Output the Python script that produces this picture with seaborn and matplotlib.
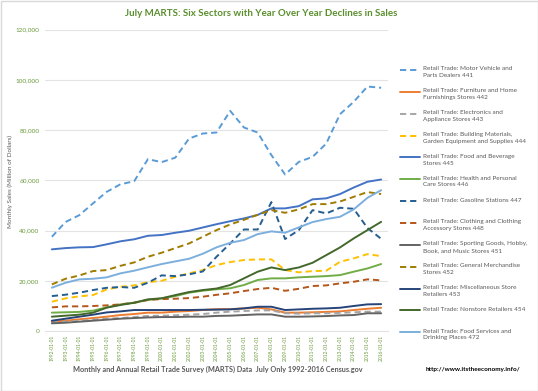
import matplotlib
matplotlib.use("Agg")
import matplotlib.pyplot as plt
import seaborn as sns
import pandas as pd
from matplotlib.lines import Line2D
from matplotlib.patches import Rectangle

# ---------------- data ----------------
years = list(range(1992, 2017))
dates = [f"{y}-01-01" for y in years]

motor_vehicle_441 = [37500, 43400, 46100, 50800, 55400, 58400, 59600, 68400, 67200, 69000,
                     76600, 78600, 79000, 87600, 81000, 79000, 70000, 62300, 67300, 69300,
                     74600, 86300, 91200, 97300, 96800]
furniture_442 = [3700, 4100, 4650, 5150, 5700, 6350, 6750, 7300, 7300, 7700,
                 7950, 8350, 8700, 8700, 9000, 9250, 8600, 7300, 7300, 7450,
                 7600, 7800, 8350, 8850, 9250]
electronics_443 = [3450, 3700, 4100, 4500, 4900, 5150, 5550, 6000, 6100, 6250,
                   6500, 6750, 7300, 7700, 7950, 8200, 8200, 7050, 6900, 7050,
                   7050, 7200, 7450, 7700, 7700]
building_444 = [11650, 13000, 13800, 14300, 16550, 17600, 18150, 19450, 20000, 21600,
                22950, 24250, 26250, 27450, 28250, 28500, 28500, 24250, 23350, 23850,
                24000, 27550, 28900, 30600, 29800]
food_bev_445 = [32500, 33000, 33300, 33400, 34500, 35700, 36500, 37900, 38200, 39100,
                39900, 41200, 42500, 43700, 44800, 46200, 48800, 48800, 49700, 52400,
                52800, 54500, 57100, 59400, 60300]
health_446 = [7300, 7450, 7600, 8100, 9400, 10600, 11250, 12350, 13000, 13900,
              15250, 16050, 16600, 17000, 18300, 20300, 20950, 20950, 21350, 21600,
              21850, 22250, 23600, 24900, 26650]
gasoline_447 = [13900, 14450, 15250, 16300, 17200, 17500, 17200, 19200, 22150, 21850,
                22550, 23700, 29550, 34850, 40400, 40400, 51300, 36600, 40150, 48100,
                46800, 49050, 48650, 41000, 36700]
clothing_448 = [9400, 9800, 9800, 9950, 10200, 10600, 11250, 12350, 12700, 12850,
                13100, 13650, 14400, 15000, 15900, 16700, 17200, 16000, 16800, 17900,
                18150, 18950, 19600, 20550, 20150]
sporting_451 = [3050, 3300, 3700, 4100, 4500, 4900, 5150, 5400, 5550, 5550,
                5700, 5700, 6000, 6100, 6350, 6600, 6600, 5700, 5700, 5800,
                5950, 6200, 6350, 7050, 7050]
general_452 = [18550, 20800, 22100, 23850, 24250, 25950, 27300, 29550, 31150, 33000,
               34850, 37500, 40150, 42400, 44250, 46250, 48100, 47050, 48400, 50500,
               50500, 51550, 53400, 55300, 54500]
misc_453 = [4100, 4900, 5700, 6500, 7400, 7800, 8350, 8350, 8350, 8350,
            8350, 8450, 8500, 8600, 9000, 9650, 9650, 8350, 8600, 8850,
            9000, 9250, 9950, 10600, 10700]
nonstore_454 = [5700, 6100, 6500, 7300, 9300, 10350, 11250, 12600, 13000, 14300,
                15500, 16300, 16900, 18300, 20950, 23600, 25300, 24250, 25300, 27150,
                30200, 33250, 36850, 40150, 43450]
food_services_472 = [17250, 19200, 20550, 20800, 21350, 22950, 24000, 25350, 26650, 27700,
                     28750, 30750, 33300, 35100, 36200, 38550, 39650, 39100, 41250, 43350,
                     44550, 45450, 48400, 53000, 56050]

series_names = [
    "Retail Trade: Motor Vehicle and\nParts Dealers 441",
    "Retail Trade: Furniture and Home\nFurnishings Stores 442",
    "Retail Trade: Electronics and\nAppliance Stores 443",
    "Retail Trade: Building Materials,\nGarden Equipment and Supplies 444",
    "Retail Trade: Food and Beverage\nStores 445",
    "Retail Trade: Health and Personal\nCare Stores 446",
    "Retail Trade: Gasoline Stations 447",
    "Retail Trade: Clothing and Clothing\nAccessory Stores 448",
    "Retail Trade: Sporting Goods, Hobby,\nBook, and Music Stores 451",
    "Retail Trade: General Merchandise\nStores 452",
    "Retail Trade: Miscellaneous Store\nRetailers 453",
    "Retail Trade: Nonstore Retailers 454",
    "Retail Trade: Food Services and\nDrinking Places 472",
]
series_values = [motor_vehicle_441, furniture_442, electronics_443, building_444,
                 food_bev_445, health_446, gasoline_447, clothing_448, sporting_451,
                 general_452, misc_453, nonstore_454, food_services_472]
series_colors = ["#5B9BD5", "#ED7D31", "#A5A5A5", "#FFC000", "#4472C4", "#70AD47",
                 "#255E91", "#B5561B", "#636363", "#A07C00", "#264478", "#43682B",
                 "#7CAFDD"]
series_dashed = [True, False, True, True, False, False, True, True, False, True,
                 False, False, False]

y_ticks = [0, 20000, 40000, 60000, 80000, 100000, 120000]

title = "July MARTS: Six Sectors with Year Over Year Declines in Sales"
x_title = "Monthly and Annual Retail Trade Survey (MARTS) Data  July Only 1992-2016 Census.gov"
y_title = "Monthly Sales (Million of Dollars)"
url_text = "http://www.itstheeconomy.info/"

# ---------------- build frame ----------------
rows = []
for name, vals in zip(series_names, series_values):
    for d, v in zip(dates, vals):
        rows.append({"date": d, "value": v, "series": name})
df = pd.DataFrame(rows)

palette = dict(zip(series_names, series_colors))
DASH = (3.2, 2.0)
dashes = {n: (DASH if dsh else "") for n, dsh in zip(series_names, series_dashed)}

sns.set_theme(style="white")
plt.rcParams["font.family"] = ["Lato", "DejaVu Sans"]

W, H = 538, 391
fig = plt.figure(figsize=(W / 100, H / 100), dpi=100)
fig.patch.set_facecolor("white")

ax_l, ax_r, ax_t, ax_b = 45, 388, 29.5, 331
ax = fig.add_axes([ax_l / W, 1 - ax_b / H, (ax_r - ax_l) / W, (ax_b - ax_t) / H])

sns.lineplot(data=df, x="date", y="value", hue="series", style="series",
             palette=palette, dashes=dashes, linewidth=1.4, legend=False,
             sort=False, ax=ax)

ax.set_xlim(-0.5, len(dates) - 0.5)
ax.set_ylim(0, 120000)
ax.set_yticks(y_ticks)
ax.set_yticklabels([f"{t:,}" for t in y_ticks])
ax.set_xticks(range(len(dates)))
ax.set_xticklabels(dates, rotation=90)

green_tick = "#6A9A3C"
ax.tick_params(axis="y", labelsize=4.6, colors=green_tick, length=0, pad=4)
ax.tick_params(axis="x", labelsize=3.5, colors=green_tick, length=0, pad=3)
ax.grid(axis="y", color="#E3E3E3", linewidth=0.8)
ax.set_axisbelow(True)
for s in ["top", "right", "left"]:
    ax.spines[s].set_visible(False)
ax.spines["bottom"].set_color("#E3E3E3")
ax.spines["bottom"].set_linewidth(0.8)
ax.set_xlabel("")
ax.set_ylabel("")

# titles
fig.text(261 / W, 1 - 13 / H, title, ha="center", va="center", fontsize=7.0,
         fontweight="bold", color="#5B8F2E")
fig.text(10 / W, 1 - 181 / H, y_title, ha="center", va="center", rotation=90,
         fontsize=4.6, color="#595959")
fig.text(218 / W, 1 - 369 / H, x_title, ha="center", va="center", fontsize=5.2,
         fontweight="bold", color="#595959")
fig.text(473 / W, 1 - 369 / H, url_text, ha="center", va="center", fontsize=4.6,
         fontweight="bold", color="#000000")

# legend (manual, Excel-like)
leg_y0, leg_step = 70, 21.85
for i, (name, col, dsh) in enumerate(zip(series_names, series_colors, series_dashed)):
    py = leg_y0 + i * leg_step
    yf = 1 - py / H
    ln = Line2D([400 / W, 420 / W], [yf, yf], transform=fig.transFigure,
                color=col, linewidth=1.4)
    if dsh:
        ln.set_dashes(DASH)
    fig.add_artist(ln)
    fig.text(423 / W, 1 - (py - 3.6) / H, name, ha="left", va="top", fontsize=4.6,
             color="#595959", linespacing=1.45)

fig.add_artist(Rectangle((0.5 / W, 0.5 / H), 1 - 1 / W, 1 - 1 / H,
                         transform=fig.transFigure, fill=False,
                         edgecolor="#D9D9D9", linewidth=1.0))

fig.savefig("out.png", dpi=100, facecolor="white")
